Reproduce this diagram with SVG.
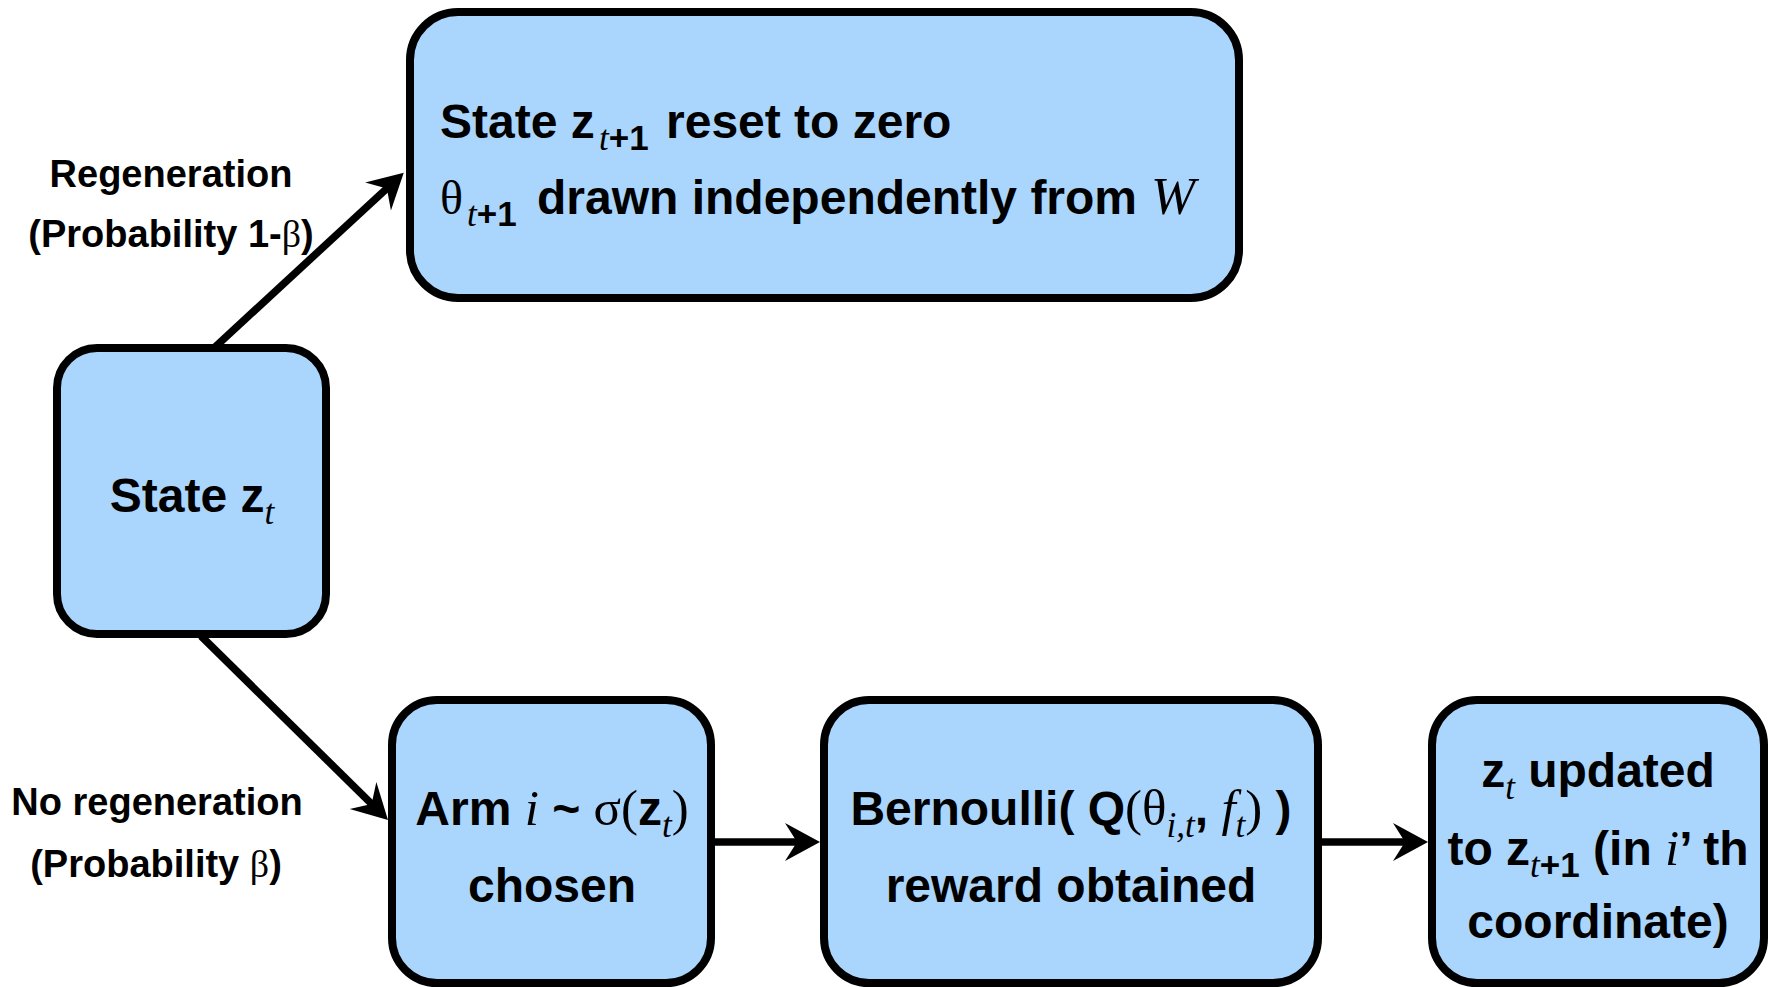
<svg xmlns="http://www.w3.org/2000/svg" width="1770" height="987" viewBox="0 0 1770 987">
<style>
.box { fill:#AAD5FC; stroke:#000; stroke-width:8; }
.t { font-family:"Liberation Sans", Arial, sans-serif; font-weight:bold; font-size:48px; fill:#000; }
.lbl { font-size:38px; }
.m { font-family:"Liberation Serif", "Times New Roman", serif; font-style:italic; font-weight:normal; }
.g { font-family:"Liberation Serif", "Times New Roman", serif; font-style:normal; font-weight:normal; }
.big { font-size:51px; }
.sub { font-size:35px; }
.edge { stroke:#000; stroke-width:7.5; fill:none; marker-end:url(#ah); }
</style>
<defs>
<marker id="ah" markerUnits="userSpaceOnUse" orient="auto" overflow="visible" markerWidth="1" markerHeight="1" refX="0" refY="0">
<path d="M22,0 L-13,-19 L-1,0 L-13,19 Z" fill="#000"/>
</marker>
</defs>
<rect width="1770" height="987" fill="#fff"/>
<g id="connectors">
<path class="edge" d="M214,348 L387.6,187.7"/>
<path class="edge" d="M201,636 L372.3,804.6"/>
<path class="edge" d="M712,842 L798,842"/>
<path class="edge" d="M1320,842 L1406,842"/>
</g>
<g id="edge-labels">
<text class="t lbl" x="171" y="187" text-anchor="middle">Regeneration</text>
<text class="t lbl" x="171" y="247" text-anchor="middle">(Probability 1-<tspan class="g">β</tspan>)</text>
<text class="t lbl" x="157" y="815" text-anchor="middle">No regeneration</text>
<text class="t lbl" x="156" y="877" text-anchor="middle">(Probability <tspan class="g">β</tspan>)</text>
</g>
<g id="node-reset">
<rect class="box" x="410" y="12" width="829" height="286" rx="48"/>
<text class="t" y="138"><tspan x="440">State z</tspan><tspan class="m sub" x="599" dy="12">t</tspan><tspan class="sub">+1</tspan><tspan x="666" dy="-12">reset to zero</tspan></text>
<text class="t" y="214"><tspan class="g" x="440">θ</tspan><tspan class="m sub" x="467" dy="12">t</tspan><tspan class="sub">+1</tspan><tspan x="537" dy="-12">drawn independently from</tspan><tspan class="m" x="1151" font-size="53">W</tspan></text>
</g>
<g id="node-state">
<rect class="box" x="57" y="348" width="269" height="286" rx="40"/>
<text class="t" x="192" y="512" text-anchor="middle">State z<tspan class="m sub" dy="12">t</tspan></text>
</g>
<g id="node-arm">
<rect class="box" x="392" y="700" width="319" height="283" rx="45"/>
<text class="t" x="552" y="825" text-anchor="middle">Arm <tspan class="m big">i</tspan> ~ <tspan class="g big">σ(</tspan>z<tspan class="m sub" dy="12">t</tspan><tspan class="g big" dy="-12">)</tspan></text>
<text class="t" x="552" y="902" text-anchor="middle">chosen</text>
</g>
<g id="node-reward">
<rect class="box" x="824" y="700" width="494" height="283" rx="45"/>
<text class="t" x="1071" y="825" text-anchor="middle">Bernoulli( Q<tspan class="g big">(θ</tspan><tspan class="m sub" dy="12">i,t</tspan><tspan dy="-12">, </tspan><tspan class="m big">f</tspan><tspan class="m sub" dy="12">t</tspan><tspan class="g big" dy="-12">)</tspan> )</text>
<text class="t" x="1071" y="902" text-anchor="middle">reward obtained</text>
</g>
<g id="node-update">
<rect class="box" x="1432" y="700" width="332" height="283" rx="45"/>
<text class="t" x="1598" y="787" text-anchor="middle">z<tspan class="m sub" dy="12">t</tspan><tspan dy="-12"> updated</tspan></text>
<text class="t" x="1598" y="865" text-anchor="middle">to z<tspan class="m sub" dy="12">t</tspan><tspan class="sub">+1</tspan><tspan dy="-12"> (in </tspan><tspan class="m big">i</tspan>’ th</text>
<text class="t" x="1598" y="938" text-anchor="middle">coordinate)</text>
</g>
</svg>
